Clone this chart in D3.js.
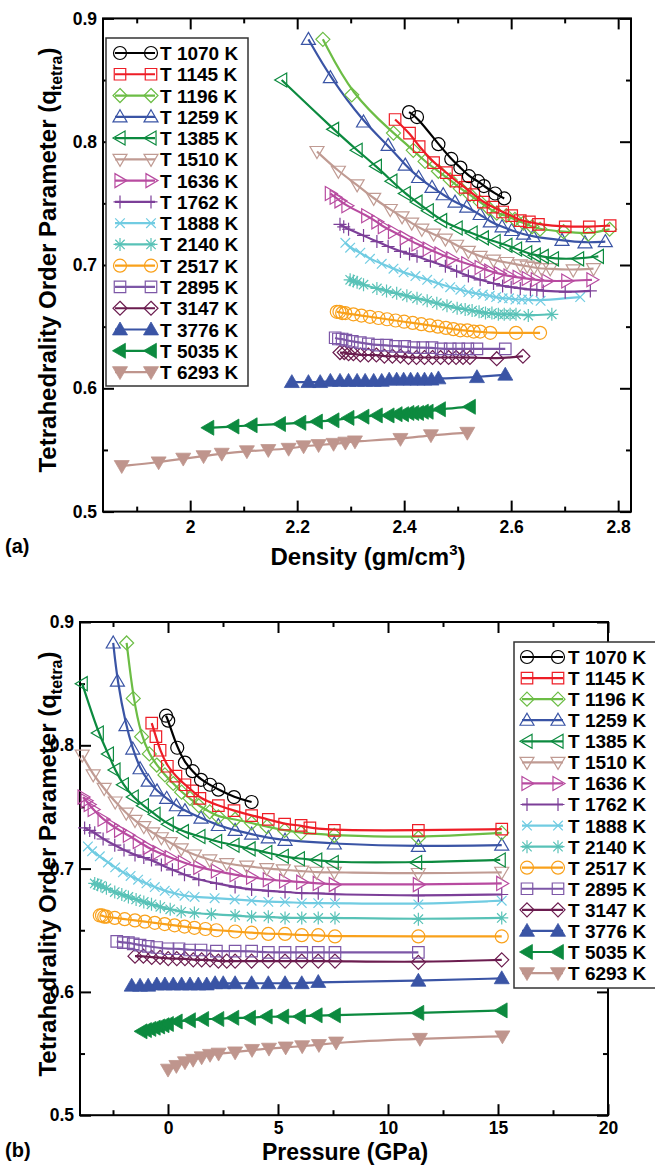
<!DOCTYPE html>
<html><head><meta charset="utf-8">
<script src="https://cdn.jsdelivr.net/npm/d3@7"></script>
<style>body{margin:0;background:#fff}svg{display:block}text{font-family:"Liberation Sans",Arial,Helvetica,sans-serif;font-weight:bold}</style>
</head><body>
<svg id="c" width="655" height="1165"></svg>
<script>
// ---------------- data ----------------
const labels = ["T 1070 K","T 1145 K","T 1196 K","T 1259 K","T 1385 K","T 1510 K","T 1636 K","T 1762 K","T 1888 K","T 2140 K","T 2517 K","T 2895 K","T 3147 K","T 3776 K","T 5035 K","T 6293 K"];

const d1070 = [2.409,2.424,2.464,2.488,2.505,2.521,2.538,2.549,2.570,2.587];
const p1070 = [-0.09,0.01,0.42,0.77,1.12,1.5,1.91,2.29,3.0,3.8];
const q1070 = [0.824,0.820,0.798,0.786,0.779,0.772,0.768,0.764,0.758,0.754];

const d1145 = [2.383,2.410,2.428,2.455,2.479,2.497,2.514,2.530,2.548,2.566,2.584,2.601,2.617,2.634,2.651,2.701,2.746,2.785];
const p1145 = [-0.74,-0.55,-0.36,-0.03,0.36,0.77,1.12,1.45,2.29,3.0,3.8,4.56,5.3,6.05,6.45,7.56,11.38,15.17];
const q1145 = [0.818,0.807,0.796,0.783,0.775,0.768,0.763,0.757,0.751,0.747,0.743,0.740,0.736,0.735,0.733,0.731,0.731,0.732];

const d1196 = [2.248,2.302,2.380,2.417,2.439,2.464,2.486,2.505,2.523,2.542,2.558,2.573,2.591,2.607,2.623,2.639,2.654,2.698,2.744,2.784];
const p1196 = [-1.88,-1.58,-1.2,-0.85,-0.51,-0.14,0.24,0.62,1.0,1.4,1.9,2.29,3.05,3.8,4.5,5.3,6.05,7.56,11.38,15.17];
const q1196 = [0.883,0.838,0.807,0.793,0.784,0.776,0.769,0.762,0.757,0.751,0.746,0.742,0.740,0.737,0.734,0.731,0.729,0.727,0.725,0.729];

const d1259 = [2.221,2.262,2.324,2.370,2.402,2.427,2.452,2.473,2.495,2.517,2.542,2.561,2.583,2.601,2.623,2.641,2.695,2.738,2.776];
const p1259 = [-2.49,-2.30,-1.91,-1.6,-1.27,-0.9,-0.5,-0.06,0.38,0.77,1.5,2.29,3.05,3.8,4.56,5.32,7.56,11.38,15.17];
const q1259 = [0.883,0.852,0.816,0.797,0.781,0.771,0.763,0.757,0.751,0.747,0.741,0.735,0.731,0.728,0.725,0.723,0.720,0.718,0.719];

const d1385 = [2.171,2.268,2.312,2.348,2.377,2.402,2.424,2.445,2.470,2.499,2.527,2.548,2.570,2.592,2.610,2.629,2.645,2.660,2.679,2.726,2.763];
const p1385 = [-3.9,-3.17,-2.71,-2.41,-2.03,-1.58,-1.12,-0.59,0.01,0.7,1.45,2.21,3.0,3.73,4.49,5.24,5.97,6.76,7.51,11.3,15.1];
const q1385 = [0.850,0.810,0.793,0.780,0.768,0.758,0.751,0.744,0.736,0.730,0.726,0.722,0.719,0.716,0.713,0.710,0.708,0.707,0.705,0.705,0.707];

const d1510 = [2.237,2.277,2.312,2.343,2.374,2.396,2.414,2.433,2.455,2.477,2.498,2.520,2.542,2.567,2.592,2.617,2.630,2.643,2.657,2.673,2.716,2.754];
const p1510 = [-3.9,-3.4,-2.9,-2.4,-1.9,-1.5,-1.1,-0.7,-0.3,0.1,0.6,1.2,1.9,2.67,3.58,4.49,5.24,6.08,6.76,7.56,11.38,15.17];
const q1510 = [0.792,0.776,0.765,0.754,0.745,0.739,0.734,0.729,0.725,0.721,0.716,0.711,0.707,0.704,0.702,0.700,0.699,0.698,0.697,0.697,0.696,0.697];

const d1636 = [2.262,2.271,2.280,2.293,2.330,2.349,2.361,2.380,2.402,2.424,2.445,2.467,2.489,2.517,2.542,2.560,2.578,2.596,2.613,2.630,2.647,2.667,2.704,2.751];
const p1636 = [-3.86,-3.72,-3.58,-3.4,-2.95,-2.55,-2.2,-1.8,-1.35,-0.9,-0.45,0.1,0.7,1.4,2.2,3.05,3.8,4.56,5.3,6.08,6.83,7.56,11.38,15.17];
const q1636 = [0.758,0.755,0.752,0.748,0.740,0.735,0.731,0.727,0.722,0.717,0.713,0.709,0.705,0.701,0.698,0.695,0.693,0.691,0.690,0.689,0.688,0.687,0.687,0.688];

const d1762 = [2.280,2.287,2.296,2.324,2.349,2.370,2.393,2.410,2.424,2.449,2.477,2.498,2.520,2.542,2.567,2.584,2.600,2.617,2.636,2.648,2.660,2.701,2.748];
const p1762 = [-3.79,-3.56,-3.33,-2.95,-2.42,-2.0,-1.5,-1.1,-0.75,-0.3,0.2,0.75,1.4,2.2,3.05,3.8,4.56,5.32,6.08,6.83,7.59,11.38,15.17];
const q1762 = [0.733,0.731,0.729,0.724,0.719,0.715,0.711,0.709,0.707,0.703,0.699,0.695,0.691,0.688,0.685,0.683,0.682,0.681,0.680,0.680,0.679,0.678,0.679];

const d1888 = [2.290,2.299,2.318,2.336,2.358,2.380,2.399,2.421,2.443,2.464,2.486,2.505,2.520,2.534,2.547,2.560,2.572,2.584,2.596,2.608,2.620,2.632,2.655,2.729];
const p1888 = [-3.64,-3.45,-3.1,-2.73,-2.4,-2.05,-1.7,-1.36,-0.98,-0.6,-0.15,0.3,0.75,1.21,2.12,3.03,3.8,4.56,5.32,6.08,6.83,7.59,11.38,15.17];
const q1888 = [0.718,0.714,0.710,0.705,0.701,0.697,0.694,0.691,0.688,0.685,0.682,0.680,0.678,0.677,0.676,0.675,0.674,0.673,0.673,0.672,0.672,0.672,0.671,0.674];

const d2140 = [2.299,2.305,2.312,2.324,2.349,2.367,2.386,2.405,2.424,2.443,2.461,2.480,2.499,2.514,2.527,2.540,2.552,2.564,2.576,2.587,2.598,2.609,2.632,2.676];
const p2140 = [-3.33,-3.2,-3.05,-2.8,-2.42,-2.1,-1.8,-1.45,-1.1,-0.75,-0.35,0.1,0.6,1.2,1.97,3.05,3.8,4.56,5.32,6.08,6.83,7.59,11.38,15.17];
const q2140 = [0.688,0.687,0.686,0.684,0.681,0.679,0.677,0.675,0.673,0.671,0.669,0.667,0.665,0.664,0.663,0.662,0.661,0.661,0.660,0.660,0.660,0.660,0.659,0.660];

const d2517 = [2.274,2.279,2.284,2.290,2.305,2.320,2.336,2.352,2.368,2.384,2.400,2.416,2.432,2.448,2.463,2.478,2.492,2.505,2.518,2.530,2.542,2.561,2.609,2.654];
const p2517 = [-3.1,-3.0,-2.9,-2.8,-2.42,-1.97,-1.5,-1.05,-0.6,-0.15,0.3,0.75,1.2,1.7,2.2,3.05,3.8,4.56,5.32,6.08,6.83,7.59,11.38,15.17];
const q2517 = [0.662,0.662,0.661,0.661,0.660,0.659,0.658,0.657,0.656,0.655,0.654,0.653,0.652,0.651,0.650,0.649,0.648,0.647,0.647,0.646,0.646,0.645,0.645,0.645];

const d2895 = [2.271,2.277,2.284,2.291,2.303,2.318,2.333,2.350,2.367,2.384,2.401,2.418,2.435,2.452,2.469,2.486,2.502,2.519,2.536,2.589];
const p2895 = [-2.33,-2.03,-1.8,-1.58,-1.27,-0.9,-0.51,0.0,0.5,0.98,1.5,2.2,3.05,3.8,4.56,5.32,6.08,6.83,7.59,11.38];
const q2895 = [0.641,0.640,0.640,0.639,0.638,0.637,0.636,0.635,0.635,0.634,0.634,0.633,0.633,0.633,0.632,0.632,0.632,0.632,0.632,0.632];

const d3147 = [2.280,2.288,2.296,2.305,2.318,2.333,2.348,2.363,2.378,2.393,2.408,2.423,2.438,2.453,2.468,2.483,2.497,2.510,2.523,2.573,2.622];
const p3147 = [-1.5,-1.12,-0.74,-0.36,0.01,0.4,0.77,1.15,1.53,1.91,2.29,2.67,3.05,3.8,4.56,5.32,6.08,6.83,7.59,11.38,15.17];
const q3147 = [0.629,0.629,0.628,0.628,0.627,0.627,0.627,0.626,0.626,0.626,0.625,0.625,0.625,0.625,0.625,0.625,0.625,0.625,0.625,0.624,0.626];

const d3776 = [2.190,2.221,2.243,2.262,2.280,2.296,2.312,2.327,2.343,2.358,2.372,2.386,2.399,2.412,2.425,2.438,2.451,2.464,2.536,2.589];
const p3776 = [-1.65,-1.27,-0.9,-0.51,-0.14,0.24,0.62,1.0,1.38,1.76,2.14,2.51,3.05,3.8,4.56,5.32,6.08,6.83,11.38,15.17];
const q3776 = [0.605,0.605,0.605,0.606,0.606,0.606,0.606,0.606,0.606,0.606,0.607,0.607,0.607,0.607,0.607,0.607,0.607,0.608,0.609,0.611];

const d5035 = [2.034,2.081,2.115,2.168,2.206,2.237,2.268,2.296,2.324,2.349,2.371,2.386,2.398,2.408,2.417,2.426,2.435,2.444,2.467,2.523];
const p5035 = [-1.2,-1.0,-0.8,-0.6,-0.4,-0.2,0.0,0.4,1.0,1.6,2.29,2.97,3.73,4.49,5.24,6.0,6.76,7.59,11.38,15.17];
const q5035 = [0.568,0.569,0.570,0.571,0.572,0.573,0.574,0.576,0.577,0.578,0.578,0.579,0.579,0.580,0.580,0.580,0.581,0.581,0.583,0.585];

const d6293 = [1.872,1.941,1.987,2.025,2.059,2.106,2.146,2.184,2.212,2.240,2.268,2.290,2.308,2.393,2.450,2.518];
const p6293 = [0,0.38,0.77,1.14,1.53,1.91,2.3,3.05,3.82,4.59,5.35,6.1,6.86,7.64,11.45,15.2];
const q6293 = [0.537,0.540,0.543,0.545,0.547,0.549,0.550,0.551,0.553,0.554,0.555,0.556,0.557,0.559,0.562,0.564];

const densities = [d1070,d1145,d1196,d1259,d1385,d1510,d1636,d1762,d1888,d2140,d2517,d2895,d3147,d3776,d5035,d6293];
const pressures = [p1070,p1145,p1196,p1259,p1385,p1510,p1636,p1762,p1888,p2140,p2517,p2895,p3147,p3776,p5035,p6293];
const qvalues   = [q1070,q1145,q1196,q1259,q1385,q1510,q1636,q1762,q1888,q2140,q2517,q2895,q3147,q3776,q5035,q6293];

const densityTicks = [2, 2.2, 2.4, 2.6, 2.8];
const densityMinor = [1.9, 2.1, 2.3, 2.5, 2.7];
const pressureTicks = [0, 5, 10, 15, 20];
const pressureMinor = [-2.5, 2.5, 7.5, 12.5, 17.5];
const qTicks = [0.5, 0.6, 0.7, 0.8, 0.9];
const qMinor = [0.55, 0.65, 0.75, 0.85];

// ---------------- styles ----------------
const styles = [
 {c:"#000000", m:"circle"},
 {c:"#ee1d26", m:"square"},
 {c:"#6cbd45", m:"diamond"},
 {c:"#3a54a5", m:"triUp"},
 {c:"#0c8a3f", m:"triLeft"},
 {c:"#c09b93", m:"triDown"},
 {c:"#b84ba0", m:"triRight"},
 {c:"#7c3f98", m:"plus"},
 {c:"#71cce2", m:"cross"},
 {c:"#58c2b7", m:"star"},
 {c:"#f9a11b", m:"circle"},
 {c:"#7d57a7", m:"square"},
 {c:"#6b1c4f", m:"diamond"},
 {c:"#3a54a5", m:"triUp", f:true},
 {c:"#0c8a3f", m:"triLeft", f:true},
 {c:"#bf958d", m:"triDown", f:true}
];
const msize = {circle:13, square:11.5, diamond:14, triUp:14, triDown:14, triLeft:14, triRight:14, plus:13, cross:12, star:13};

function mk(type, s){
  const h = s/2;
  switch(type){
    case 'circle': return `M${h},0A${h},${h} 0 1,1 ${-h},0A${h},${h} 0 1,1 ${h},0Z`;
    case 'square': return `M${-h},${-h}H${h}V${h}H${-h}Z`;
    case 'diamond': return `M0,${-h}L${h},0L0,${h}L${-h},0Z`;
    case 'triUp': return `M0,${-h}L${h},${h*0.72}L${-h},${h*0.72}Z`;
    case 'triDown': return `M0,${h}L${h},${-h*0.72}L${-h},${-h*0.72}Z`;
    case 'triLeft': return `M${-h},0L${h*0.72},${-h}L${h*0.72},${h}Z`;
    case 'triRight': return `M${h},0L${-h*0.72},${-h}L${-h*0.72},${h}Z`;
    case 'plus': return `M${-h},0H${h}M0,${-h}V${h}`;
    case 'cross': { const k=h*0.8; return `M${-k},${-k}L${k},${k}M${-k},${k}L${k},${-k}`; }
    case 'star': { const k=h*0.72; return `M${-h},0H${h}M0,${-h}V${h}M${-k},${-k}L${k},${k}M${-k},${k}L${k},${-k}`; }
  }
}

const svg = d3.select("#c");

function panel(cfg){
  const {x, y, xs, ys, xTicks, xMinor, xFmt, xPad, legend, tag, title, titleSup, titleX, titleY, titleSize, tagY, yTitleY} = cfg;
  const g = svg.append("g");
  const [x0,x1] = x.range(), [y0,y1] = y.range(); // y0 bottom
  const fmtY = d => d3.format(".1f")(d);
  const ax = [
    [d3.axisBottom(x).tickValues(xTicks).tickSize(-11).tickPadding(xPad).tickFormat(xFmt), `translate(0,${y0})`],
    [d3.axisBottom(x).tickValues(xMinor).tickSize(-5).tickFormat(""), `translate(0,${y0})`],
    [d3.axisTop(x).tickValues(xTicks).tickSize(-11).tickFormat(""), `translate(0,${y1})`],
    [d3.axisTop(x).tickValues(xMinor).tickSize(-5).tickFormat(""), `translate(0,${y1})`],
    [d3.axisLeft(y).tickValues(qTicks).tickSize(-11).tickPadding(6).tickFormat(fmtY), `translate(${x0},0)`],
    [d3.axisLeft(y).tickValues(qMinor).tickSize(-5).tickFormat(""), `translate(${x0},0)`],
    [d3.axisRight(y).tickValues(qTicks).tickSize(-11).tickFormat(""), `translate(${x1},0)`],
    [d3.axisRight(y).tickValues(qMinor).tickSize(-5).tickFormat(""), `translate(${x1},0)`]
  ];
  ax.forEach(([a,t]) => {
    const s = g.append("g").attr("transform", t).call(a);
    s.select(".domain").remove();
    s.selectAll(".tick line").attr("stroke","#000").attr("stroke-width",2);
    s.selectAll("text").attr("fill","#000").style("font-size","17.5px").style("font-weight","bold");
  });
  g.append("rect").attr("x",x0).attr("y",y1).attr("width",x1-x0).attr("height",y0-y1)
    .attr("fill","none").attr("stroke","#000").attr("stroke-width",2);

  const line = d3.line().x(d=>x(d[0])).y(d=>y(d[1])).curve(d3.curveBasis);
  for (let i = labels.length-1; i >= 0; i--){
    const st = styles[i];
    const pts = xs[i].map((v,j)=>[v, ys[i][j]]);
    const sg = g.append("g");
    sg.append("path").attr("d", line(pts)).attr("fill","none").attr("stroke",st.c).attr("stroke-width",2.2);
    sg.selectAll("path.m").data(pts).join("path").attr("class","m")
      .attr("transform", d=>`translate(${x(d[0])},${y(d[1])})`)
      .attr("d", mk(st.m, st.f ? 15 : msize[st.m]))
      .attr("fill", st.f ? st.c : "none")
      .attr("stroke", st.c).attr("stroke-width", st.f ? 0.8 : 1.2);
  }

  const L = legend;
  g.append("rect").attr("x",L.x).attr("y",L.y).attr("width",L.w).attr("height",L.h)
    .attr("fill","#fff").attr("stroke","#333").attr("stroke-width",1.5);
  labels.forEach((lab,i)=>{
    const st = styles[i];
    const yy = L.row0 + i*L.dy;
    g.append("line").attr("x1",L.lx0).attr("x2",L.lx1).attr("y1",yy).attr("y2",yy)
      .attr("stroke",st.c).attr("stroke-width",2.2);
    [L.mx0, L.mx1].forEach(mx=>{
      g.append("path").attr("transform",`translate(${mx},${yy})`)
        .attr("d", mk(st.m, st.f ? 15 : msize[st.m]))
        .attr("fill", st.f ? st.c : "none").attr("stroke", st.c).attr("stroke-width", st.f?0.8:1.2);
    });
    g.append("text").attr("x",L.tx).attr("y",yy+7).style("font-size","19px").attr("fill","#000").text(lab);
  });

  const yt = g.append("text").attr("transform",`translate(56,${yTitleY}) rotate(-90)`).attr("text-anchor","middle").style("font-size","24px");
  yt.append("tspan").text("Tetrahedrality Order Parameter (q");
  yt.append("tspan").attr("dy",6).style("font-size","16px").text("tetra");
  yt.append("tspan").attr("dy",-6).text(")");

  const xt = g.append("text").attr("x",titleX).attr("y",titleY).attr("text-anchor","middle").style("font-size",titleSize+"px");
  xt.append("tspan").text(title);
  if (titleSup){
    xt.append("tspan").attr("dy",-10).style("font-size","15px").text(titleSup);
    xt.append("tspan").attr("dy",10).text(")");
  }
  g.append("text").attr("x",5).attr("y",tagY).style("font-size","20px").text(tag);
}

panel({
  x: d3.scaleLinear([1.837, 2.824],[103, 631]),
  y: d3.scaleLinear([0.5, 0.9],[511.6, 18.4]),
  xs: densities, ys: qvalues,
  xTicks: densityTicks, xMinor: densityMinor, xFmt: d=>d3.format("~g")(d), xPad: 9,
  legend: {x:106, y:38, w:142, h:348, row0:53, dy:21.27, lx0:115, lx1:155, mx0:120, mx1:151, tx:160},
  tag:"(a)", tagY:553, title:"Density (gm/cm", titleSup:"3", titleX:368, titleY:565, titleSize:24, yTitleY:260
});

panel({
  x: d3.scaleLinear([-4, 20],[80, 608]),
  y: d3.scaleLinear([0.5, 0.9],[1115.2, 622]),
  xs: pressures, ys: qvalues,
  xTicks: pressureTicks, xMinor: pressureMinor, xFmt: d=>d3.format("d")(d), xPad: 6,
  legend: {x:514, y:642, w:160, h:346, row0:657, dy:21.07, lx0:522, lx1:563, mx0:527, mx1:558, tx:568},
  tag:"(b)", tagY:1157, title:"Pressure (GPa)", titleSup:null, titleX:345, titleY:1159.5, titleSize:23, yTitleY:864
});
</script>
</body></html>
